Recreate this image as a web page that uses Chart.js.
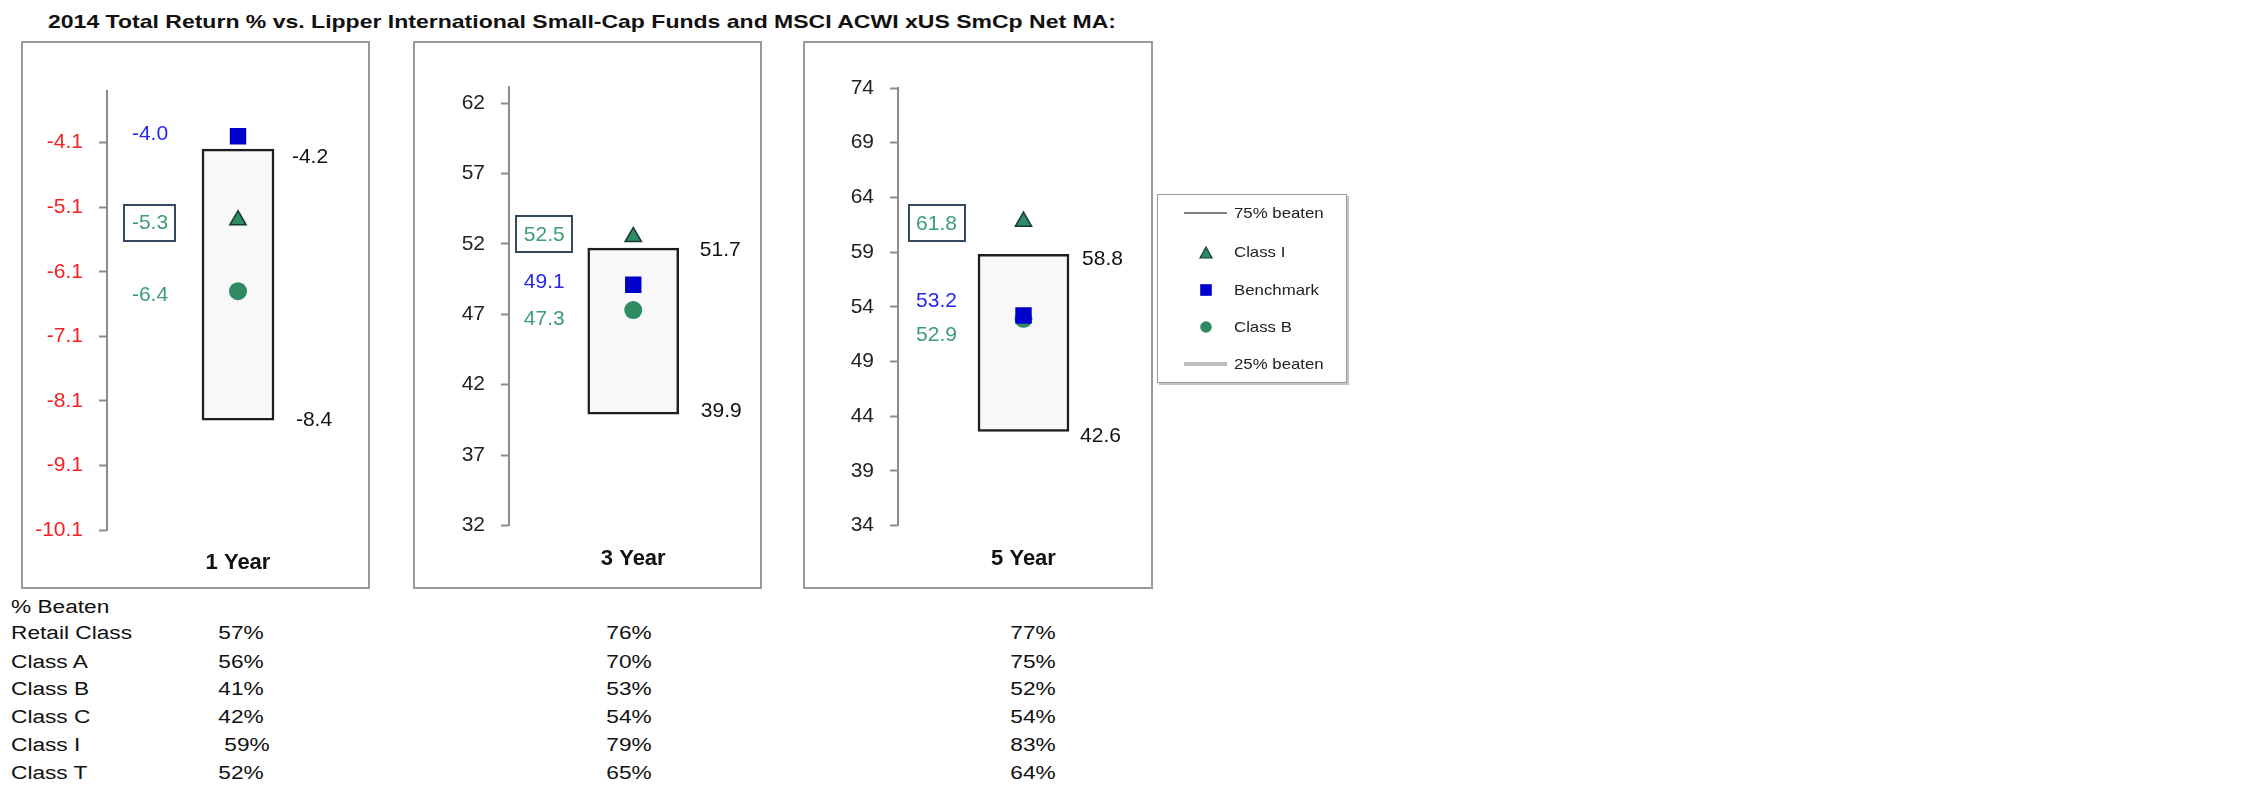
<!DOCTYPE html>
<html>
<head>
<meta charset="utf-8">
<script src="https://cdn.jsdelivr.net/npm/chart.js@4.4.1/dist/chart.umd.min.js"></script>
<style>
  html, body { margin: 0; padding: 0; background: #fff; }
  body { width: 2251px; height: 798px; position: relative; overflow: hidden; font-family: "Liberation Sans", Arial, sans-serif; }
  .abs { position: absolute; }
  .panel { position: absolute; border: 2px solid #9a9a9a; box-sizing: border-box; pointer-events: none; }
  canvas { position: absolute; }
  #title { position: absolute; left: 48px; top: 10px; font-weight: bold; font-size: 18.5px; line-height: 24px; color: #111; white-space: nowrap; transform-origin: left center; }
  .trow { position: absolute; font-size: 18px; line-height: 20px; color: #111; white-space: nowrap; }
  .tlab { transform-origin: left center; }
  .tval { width: 80px; text-align: center; transform-origin: center center; }
  #legend { position: absolute; left: 1157px; top: 194px; width: 190px; height: 189px; border: 1px solid #9a9a9a; box-shadow: 2px 2px 0 #c4c4c4; box-sizing: border-box; background: #fff; }
  .litem { position: absolute; font-size: 15px; line-height: 18px; color: #222; white-space: nowrap; transform-origin: left center; transform: scaleX(1.12); }
</style>
</head>
<body>
<div id="title">2014 Total Return % vs. Lipper International Small-Cap Funds and MSCI ACWI xUS SmCp Net MA:</div>

<canvas id="c1"></canvas>
<canvas id="c2"></canvas>
<canvas id="c3"></canvas>
<div class="panel" id="p1"></div>
<div class="panel" id="p2"></div>
<div class="panel" id="p3"></div>

<div id="legend"></div>
<div id="table"></div>

<script>
// ---------------- DATA ----------------
const periods    = ['1 Year', '3 Year', '5 Year'];
const classI     = [-5.3, 52.5, 61.8];
const benchmark  = [-4.0, 49.1, 53.2];
const classB     = [-6.4, 47.3, 52.9];
const beaten75   = [-4.2, 51.7, 58.8];
const beaten25   = [-8.4, 39.9, 42.6];
const ticks1Y    = [-10.1, -9.1, -8.1, -7.1, -6.1, -5.1, -4.1];
const ticks3Y    = [32, 37, 42, 47, 52, 57, 62];
const ticks5Y    = [34, 39, 44, 49, 54, 59, 64, 69, 74];
const legendLabels = ['75% beaten', 'Class I', 'Benchmark', 'Class B', '25% beaten'];
const tableClasses = ['Retail Class', 'Class A', 'Class B', 'Class C', 'Class I', 'Class T'];
const beatenPct1Y  = [57, 56, 41, 42, 59, 52];
const beatenPct3Y  = [76, 70, 53, 54, 79, 65];
const beatenPct5Y  = [77, 75, 52, 54, 83, 64];

// ---------------- STYLE / LAYOUT ----------------
const C_TRI = '#2e8b62', C_TRI_B = '#17383a', C_SQ = '#0000cc', C_CIR = '#2e8b62';
const C_LBL_GREEN = '#3c9c74', C_LBL_BLUE = '#2626ee', C_LBL_DARK = '#111111', C_BOX = '#34495e';
const FONT = '"Liberation Sans", Arial, sans-serif';
const CANVAS_EXTRA = 24;

const tickSets = [ticks1Y, ticks3Y, ticks5Y];
const LAYOUT = [
  { left: 21, right: 370, top: 41, bottom: 589, axisX: 107, areaTop: 91, areaBottom: 530, areaRight: 369,
    max: -3.3, tickColor: '#f52020', dec: 1, bar: 72, catPad: 20,
    dxL: -88, dxR: 72, dxR2: 76, dyI: 2.5, dyBm: -2.5, dyB: 3, dyHi: 7, dyLo: -1 },
  { left: 413, right: 762, top: 41, bottom: 589, axisX: 509, areaTop: 87, areaBottom: 525.5, areaRight: 757.5,
    max: 63.14, tickColor: '#222222', dec: 0, bar: 91, catPad: 20,
    dxL: -89, dxR: 87, dxR2: 88, dyI: -3, dyBm: -3.5, dyB: 8.5, dyHi: 1, dyLo: -4 },
  { left: 803, right: 1153, top: 41, bottom: 589, axisX: 898, areaTop: 88, areaBottom: 525.5, areaRight: 1149,
    max: 74, tickColor: '#222222', dec: 0, bar: 91, catPad: 20,
    dxL: -87, dxR: 79, dxR2: 77, dyI: 2, dyBm: -15, dyB: 15, dyHi: 4, dyLo: 4 }
];

// plugin drawing value labels next to marks
const valueLabels = {
  id: 'valueLabels',
  afterDatasetsDraw(chart, args, opts) {
    const ctx = chart.ctx, xs = chart.scales.x, ys = chart.scales.y;
    const cx = xs.getPixelForValue(0);
    ctx.save();
    ctx.font = '21px ' + FONT;
    ctx.textAlign = 'center';
    ctx.textBaseline = 'middle';
    opts.items.forEach(it => {
      const x = cx + it.dx, y = ys.getPixelForValue(it.value) + it.dy;
      const txt = it.value.toFixed(1);
      if (it.boxed) {
        const w = ctx.measureText(txt).width + 15, h = 36;
        ctx.lineWidth = 2;
        ctx.strokeStyle = C_BOX;
        ctx.strokeRect(Math.round(x - w / 2), Math.round(y - h / 2), Math.round(w), h);
      }
      ctx.fillStyle = it.color;
      ctx.fillText(txt, x, y + 1);
    });
    ctx.restore();
  }
};

function makeChart(i) {
  const L = LAYOUT[i];
  const cv = document.getElementById('c' + (i + 1));
  const W = L.right - L.left, H = L.bottom - L.top;
  const CW = W + CANVAS_EXTRA;
  cv.width = CW; cv.height = H;
  cv.style.left = L.left + 'px'; cv.style.top = L.top + 'px';
  cv.style.width = CW + 'px'; cv.style.height = H + 'px';
  const p = document.getElementById('p' + (i + 1));
  p.style.left = L.left + 'px'; p.style.top = L.top + 'px';
  p.style.width = W + 'px'; p.style.height = H + 'px';

  const ticks = tickSets[i];
  const chart = new Chart(cv, {
    type: 'bar',
    data: {
      labels: [periods[i]],
      datasets: [
        { type: 'line', label: 'Class I', data: [classI[i]], showLine: false, order: 1,
          pointStyle: 'triangle', pointRadius: 9.4, pointHoverRadius: 9.4,
          pointBackgroundColor: C_TRI, pointBorderColor: C_TRI_B, pointBorderWidth: 1.5 },
        { type: 'line', label: 'Benchmark', data: [benchmark[i]], showLine: false, order: 2,
          pointStyle: 'rect', pointRadius: 11.6, pointHoverRadius: 11.6,
          pointBackgroundColor: C_SQ, pointBorderColor: C_SQ, pointBorderWidth: 0 },
        { type: 'line', label: 'Class B', data: [classB[i]], showLine: false, order: 3,
          pointStyle: 'circle', pointRadius: 9, pointHoverRadius: 9,
          pointBackgroundColor: C_CIR, pointBorderColor: C_CIR, pointBorderWidth: 0 },
        { type: 'bar', label: 'range', data: [[beaten25[i], beaten75[i]]], order: 4,
          backgroundColor: '#f8f8f8', borderColor: '#1e1e1e', borderWidth: 2.5, borderSkipped: false,
          barThickness: L.bar }
      ]
    },
    options: {
      responsive: false,
      devicePixelRatio: 1,
      animation: false,
      events: [],
      layout: { padding: { top: L.areaTop - L.top, right: L.left + CW - L.areaRight, left: 0, bottom: 0 } },
      plugins: {
        legend: { display: false },
        tooltip: { enabled: false },
        valueLabels: {
          items: [
            { value: benchmark[i], dx: L.dxL, dy: L.dyBm, color: C_LBL_BLUE },
            { value: classI[i], dx: L.dxL, dy: L.dyI, color: C_LBL_GREEN, boxed: true },
            { value: classB[i], dx: L.dxL, dy: L.dyB, color: C_LBL_GREEN },
            { value: beaten75[i], dx: L.dxR, dy: L.dyHi, color: C_LBL_DARK },
            { value: beaten25[i], dx: L.dxR2, dy: L.dyLo, color: C_LBL_DARK }
          ]
        }
      },
      scales: {
        x: {
          type: 'category',
          offset: true,
          grid: { display: false, drawTicks: false },
          border: { display: false },
          ticks: { color: '#111', font: { family: FONT, size: 22, weight: 'bold' }, padding: L.catPad, maxRotation: 0 },
          afterFit(s) { s.height = L.bottom - L.areaBottom; }
        },
        y: {
          type: 'linear',
          min: ticks[0],
          max: L.max,
          grid: { display: true, drawOnChartArea: false, drawTicks: true, tickLength: 8, tickColor: '#8c8c8c', tickWidth: 2 },
          border: { display: true, color: '#8c8c8c', width: 2 },
          ticks: {
            color: L.tickColor, padding: 16,
            font: { family: FONT, size: 21 },
            callback: v => Number(v).toFixed(L.dec)
          },
          afterBuildTicks(s) { s.ticks = ticks.map(v => ({ value: v })); },
          afterFit(s) { s.width = L.axisX - L.left; }
        }
      }
    },
    plugins: [valueLabels]
  });
  // correct the plot area's right edge for the padding Chart.js adds around the category label
  for (let k = 0; k < 3; k++) {
    const err = chart.chartArea.right + L.left - L.areaRight;
    if (Math.abs(err) < 0.3) break;
    chart.options.layout.padding.right = Math.max(0, chart.options.layout.padding.right + err);
    chart.update();
  }
}
[0, 1, 2].forEach(makeChart);

// ---------------- LEGEND ----------------
(function () {
  const lg = document.getElementById('legend');
  const ys = [18, 57, 95, 132, 169];
  const symX = 48;
  const svgs = [
    '<svg width="44" height="10"><line x1="0" y1="5" x2="43" y2="5" stroke="#555" stroke-width="1.5"/></svg>',
    '<svg width="14" height="13"><polygon points="7,1 13,12 1,12" fill="' + C_TRI + '" stroke="' + C_TRI_B + '" stroke-width="1.2"/></svg>',
    '<svg width="12" height="12"><rect x="0.2" y="0.2" width="11.6" height="11.6" fill="' + C_SQ + '"/></svg>',
    '<svg width="12" height="12"><circle cx="6" cy="6" r="5.8" fill="' + C_CIR + '"/></svg>',
    '<svg width="44" height="10"><line x1="0" y1="5" x2="43" y2="5" stroke="#bdbdbd" stroke-width="4"/></svg>'
  ];
  legendLabels.forEach((t, k) => {
    const s = document.createElement('div');
    s.className = 'abs';
    s.innerHTML = svgs[k];
    const line = (k === 0 || k === 4);
    s.style.left = (line ? 26 : symX - (k === 1 ? 7 : 6)) + 'px';
    s.style.top = (ys[k] - (line ? 5 : 6)) + 'px';
    s.style.lineHeight = '0';
    lg.appendChild(s);
    const d = document.createElement('div');
    d.className = 'litem';
    d.textContent = t;
    d.style.left = '76px';
    d.style.top = (ys[k] - 9) + 'px';
    lg.appendChild(d);
  });
})();

// ---------------- TABLE ----------------
(function () {
  const tb = document.getElementById('table');
  const rowY = [633, 662, 689, 717, 745, 773];
  const colX = [241, 629, 1033];
  const sx = 1.26;
  function add(txt, cls, left, cy) {
    const d = document.createElement('div');
    d.className = 'trow ' + cls;
    d.textContent = txt;
    d.style.left = left + 'px';
    d.style.top = (cy - 10) + 'px';
    d.style.transform = 'scaleX(' + sx + ')';
    tb.appendChild(d);
  }
  add('% Beaten', 'tlab', 11, 607);
  tableClasses.forEach((c, r) => {
    add(c, 'tlab', 11, rowY[r]);
    [beatenPct1Y, beatenPct3Y, beatenPct5Y].forEach((arr, k) => {
      const shift = (k === 0 && c === 'Class I') ? 6 : 0;
      add(arr[r] + '%', 'tval', colX[k] - 40 + shift, rowY[r]);
    });
  });
})();

// ---------------- TITLE ----------------
(function () {
  const t = document.getElementById('title');
  const w = t.getBoundingClientRect().width;
  t.style.transform = 'scaleX(' + (1068 / w) + ')';
})();
</script>
</body>
</html>
